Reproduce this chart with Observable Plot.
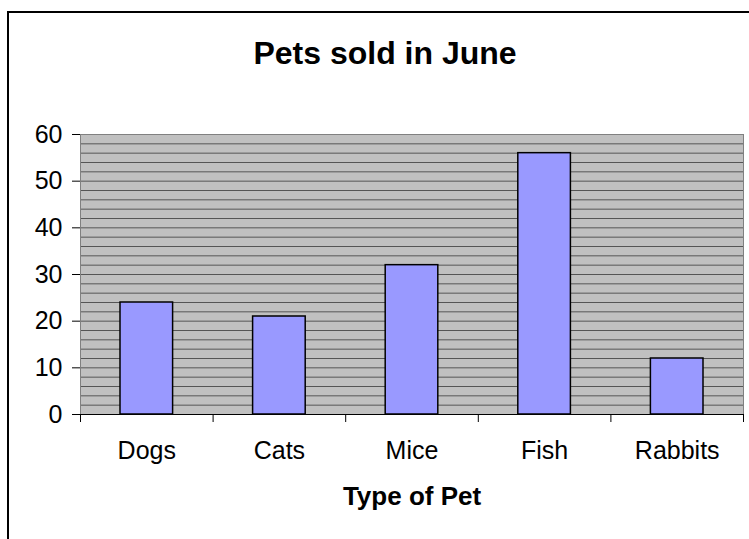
<!DOCTYPE html>
<html><head><meta charset="utf-8">
<script src="https://cdn.jsdelivr.net/npm/d3@7"></script>
<script src="https://cdn.jsdelivr.net/npm/@observablehq/plot@0.6"></script>
<style>
html,body{margin:0;padding:0;background:#fff;overflow:hidden;}
#wrap{position:relative;width:749px;height:539px;overflow:hidden;font-family:"Liberation Sans",Arial,sans-serif;}
#border{position:absolute;left:7px;top:11px;width:800px;height:600px;border:2px solid #000;box-sizing:border-box;}
#title{position:absolute;left:0;top:35px;width:770px;text-align:center;font-weight:bold;font-size:32px;line-height:normal;}
#chart{position:absolute;left:0;top:120px;}
</style></head><body>
<div id="wrap"><div id="border"></div><div id="title">Pets sold in June</div><div id="chart"></div></div>
<script>
const categories = ["Dogs", "Cats", "Mice", "Fish", "Rabbits"];
const sold = [24, 21, 32, 56, 12];
const yTicks = [0, 10, 20, 30, 40, 50, 60];
const xTitle = "Type of Pet";

const data = categories.map((c, i) => ({pet: c, i, sold: sold[i]}));
const boundaries = categories.map((c, i) => i).concat(categories.length);
const centers = categories.map((c, i) => i + 0.5);

const chart = Plot.plot({
  width: 749, height: 419,
  marginTop: 14, marginLeft: 80, marginRight: 6, marginBottom: 125,
  style: {fontFamily: "Liberation Sans, Arial, sans-serif", fontSize: "25px", color: "#000", background: "transparent", overflow: "visible"},
  x: {domain: [0, categories.length]},
  y: {domain: [0, 60]},
  marks: [
    Plot.frame({fill: "#c0c0c0", stroke: null}),
    Plot.gridY({interval: 2, stroke: "#555", strokeOpacity: 1, strokeWidth: 1}),
    Plot.frame({stroke: "#808080"}),
    Plot.rectY(data, {x1: "i", x2: d => d.i + 1, y: "sold", fill: "#9999ff", stroke: "#000", strokeWidth: 1.5, insetLeft: 40, insetRight: 40}),
    Plot.ruleY([0], {stroke: "#000"}),
    Plot.axisY({ticks: yTicks, tickSize: 8, tickPadding: 10, label: null, fontSize: 25}),
    Plot.axisX({ticks: boundaries, tickSize: 8, tickFormat: () => "", label: null}),
    Plot.axisX({ticks: centers, tickSize: 0, tickPadding: 27, tickFormat: v => categories[Math.floor(v)], label: null, fontSize: 25}),
    Plot.text([xTitle], {text: d => d, frameAnchor: "bottom", dy: 90, fontWeight: "bold", fontSize: 26})
  ]
});
document.getElementById("chart").appendChild(chart);
</script>
</body></html>
